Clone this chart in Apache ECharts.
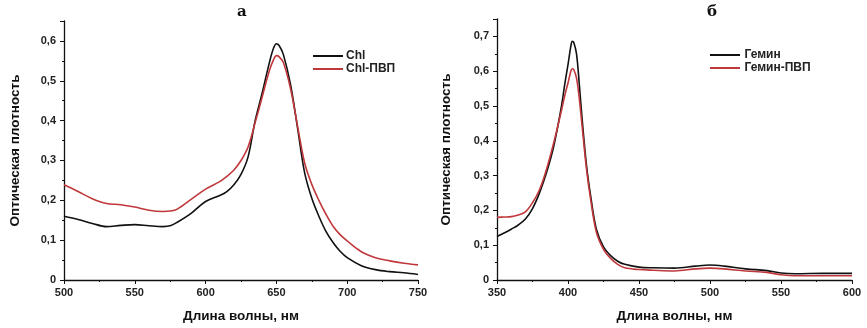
<!DOCTYPE html>
<html>
<head>
<meta charset="utf-8">
<script src="https://cdn.jsdelivr.net/npm/echarts@6/dist/echarts.min.js"></script>
<style>
html, body { margin: 0; padding: 0; background: #fff; }
#chart { width: 867px; height: 328px; }
</style>
</head>
<body>
<div id="chart"></div>
<script>
// panel а: chlorophyll
const chlNm = [500, 510, 520, 530, 540, 550, 560, 570, 575, 580, 590, 600, 610, 615, 620, 625, 630, 635, 640, 645, 648, 650, 652, 655, 660, 665, 670, 675, 680, 685, 690, 695, 700, 710, 720, 730, 740, 750]
const chl = [0.160, 0.152, 0.142, 0.134, 0.137, 0.139, 0.136, 0.134, 0.136, 0.145, 0.168, 0.197, 0.212, 0.222, 0.239, 0.265, 0.309, 0.400, 0.470, 0.545, 0.582, 0.593, 0.588, 0.565, 0.490, 0.380, 0.268, 0.205, 0.160, 0.122, 0.094, 0.072, 0.056, 0.036, 0.026, 0.021, 0.018, 0.014]
const chlPvp = [0.239, 0.222, 0.204, 0.192, 0.189, 0.183, 0.175, 0.172, 0.173, 0.178, 0.203, 0.228, 0.247, 0.260, 0.276, 0.300, 0.334, 0.395, 0.460, 0.525, 0.553, 0.563, 0.560, 0.545, 0.480, 0.385, 0.293, 0.240, 0.200, 0.165, 0.135, 0.114, 0.098, 0.071, 0.056, 0.048, 0.042, 0.038]

// panel б: hemin
const heminNm = [350, 355, 360, 365, 370, 375, 380, 385, 390, 395, 398, 400, 402, 403, 404, 406, 408, 410, 413, 416, 420, 425, 430, 435, 440, 450, 460, 475, 490, 500, 510, 525, 540, 550, 560, 580, 600]
const hemin = [0.125, 0.135, 0.146, 0.158, 0.175, 0.205, 0.251, 0.310, 0.385, 0.490, 0.570, 0.619, 0.672, 0.686, 0.683, 0.650, 0.560, 0.460, 0.330, 0.240, 0.146, 0.095, 0.070, 0.054, 0.045, 0.037, 0.035, 0.034, 0.040, 0.043, 0.040, 0.032, 0.027, 0.020, 0.018, 0.019, 0.019]
const heminPvp = [0.180, 0.181, 0.182, 0.187, 0.196, 0.222, 0.260, 0.320, 0.395, 0.480, 0.535, 0.566, 0.600, 0.607, 0.605, 0.580, 0.520, 0.440, 0.320, 0.230, 0.137, 0.088, 0.062, 0.045, 0.035, 0.030, 0.028, 0.026, 0.032, 0.034, 0.032, 0.026, 0.022, 0.015, 0.012, 0.012, 0.012]

const seriesNames = ['Chl', 'Chl-ПВП', 'Гемин', 'Гемин-ПВП']
const panelTitles = ['а', 'б']

const FONT = 'Liberation Sans'
const BLACK = '#111'
const RED = '#c0383c'

const pairs = (xs, ys) => xs.map((x, i) => [x, ys[i]])
const comma = v => String(Math.round(v * 100) / 100).replace('.', ',')

function xAxisOpt(idx, min, max) {
    return {
        type: 'value', gridIndex: idx, min: min, max: max, interval: 50,
        name: 'Длина волны, нм', nameLocation: 'middle', nameGap: 29,
        nameTextStyle: { fontFamily: FONT, fontWeight: 'bold', fontSize: 13.5, color: '#111' },
        axisLine: { lineStyle: { color: '#111', width: 1.3 } },
        axisTick: { inside: false, length: 4, lineStyle: { color: '#111' } },
        minorTick: { show: true, splitNumber: 2, length: 2, lineStyle: { color: '#111' } },
        axisLabel: { fontFamily: FONT, fontWeight: 'bold', fontSize: 11, color: '#222', margin: 7 },
        splitLine: { show: false }
    }
}

function yAxisOpt(idx, max, gap) {
    return {
        type: 'value', gridIndex: idx, min: 0, max: max, interval: 0.1,
        name: 'Оптическая плотность', nameLocation: 'middle', nameGap: gap,
        nameTextStyle: { fontFamily: FONT, fontWeight: 'bold', fontSize: 13.5, color: '#111' },
        axisLine: { show: true, lineStyle: { color: '#111', width: 1.3 } },
        axisTick: { show: true, length: 4, lineStyle: { color: '#111' } },
        minorTick: { show: true, splitNumber: 2, length: 2, lineStyle: { color: '#111' } },
        axisLabel: { fontFamily: FONT, fontWeight: 'bold', fontSize: 11, color: '#222', margin: 8,
            showMaxLabel: false, formatter: comma },
        splitLine: { show: false }
    }
}

function lineSeries(name, idx, data, color) {
    return {
        type: 'line', name: name, xAxisIndex: idx, yAxisIndex: idx,
        data: data, smooth: 0.35, symbol: 'none',
        lineStyle: { color: color, width: 1.6 },
        itemStyle: { color: color },
        animation: false
    }
}

const legendText = { fontFamily: FONT, fontWeight: 'bold', fontSize: 12, color: '#222', padding: [0, 0, 0, -2] }
const legendIcon = 'path://M0,0 L30,0 L30,2 L0,2 Z'

const chart = echarts.init(document.getElementById('chart'))
chart.setOption({
    backgroundColor: '#fff',
    animation: false,
    title: [
        { text: panelTitles[0], left: 232, top: 0,
          textStyle: { fontFamily: 'DejaVu Serif', fontWeight: 'bold', fontSize: 15, color: '#111' } },
        { text: panelTitles[1], left: 702, top: 0,
          textStyle: { fontFamily: 'DejaVu Serif', fontWeight: 'bold', fontSize: 15, color: '#111' } }
    ],
    legend: [
        { data: [seriesNames[0], seriesNames[1]], orient: 'vertical', left: 308, top: 45,
          icon: legendIcon, itemWidth: 30, itemHeight: 2, itemGap: 1, textStyle: legendText },
        { data: [seriesNames[2], seriesNames[3]], orient: 'vertical', left: 705, top: 44,
          icon: legendIcon, itemWidth: 33, itemHeight: 2, itemGap: 1, textStyle: legendText }
    ],
    grid: [
        { left: 64, top: 21, width: 354, height: 260 },
        { left: 497, top: 19, width: 355, height: 262 }
    ],
    xAxis: [xAxisOpt(0, 500, 750), xAxisOpt(1, 350, 600)],
    yAxis: [yAxisOpt(0, 0.65, 42), yAxisOpt(1, 0.75, 44)],
    series: [
        lineSeries(seriesNames[0], 0, pairs(chlNm, chl), BLACK),
        lineSeries(seriesNames[1], 0, pairs(chlNm, chlPvp), RED),
        lineSeries(seriesNames[2], 1, pairs(heminNm, hemin), BLACK),
        lineSeries(seriesNames[3], 1, pairs(heminNm, heminPvp), RED)
    ]
})
</script>
</body>
</html>
